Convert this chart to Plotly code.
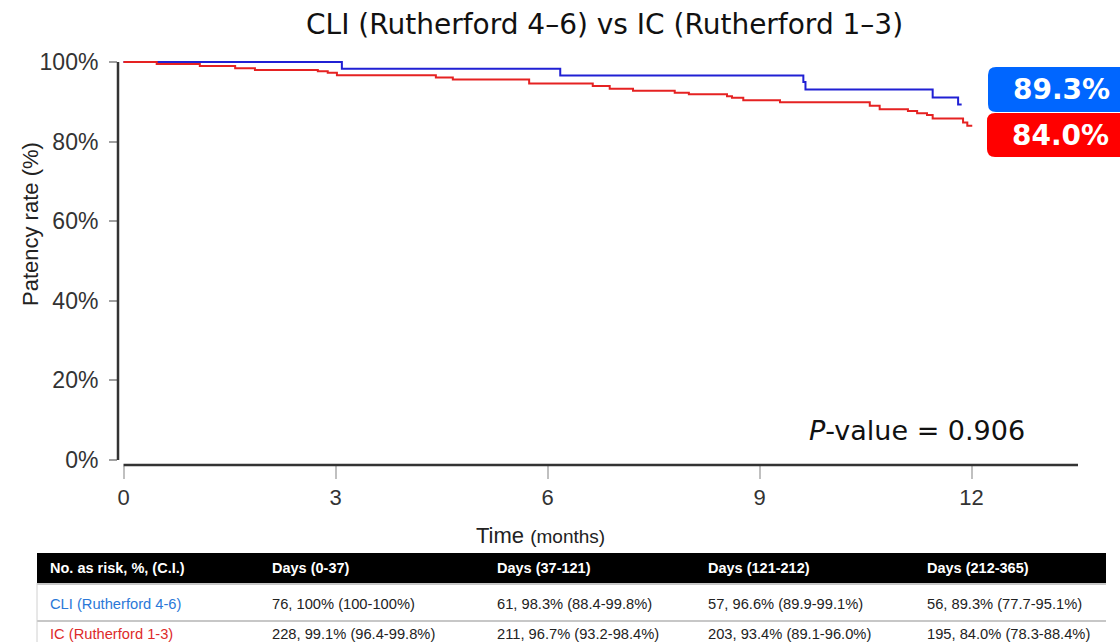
import plotly.graph_objects as go

# Kaplan-Meier patency estimates (months, %)
cli_time = [0, 3.09, 6.18, 9.62, 9.65, 11.45, 11.81, 11.86]
cli_rate = [100, 98.3, 96.6, 95.0, 93.1, 91.1, 89.3, 89.3]

ic_time = [0, 0.47, 1.08, 1.58, 1.86, 2.75, 2.89, 3.02, 4.42, 4.66, 5.74, 6.64,
           6.88, 7.21, 7.80, 8.00, 8.54, 8.61, 8.77, 9.29, 10.56, 10.70, 11.10,
           11.23, 11.37, 11.45, 11.88, 11.94, 12.01]
ic_rate = [100, 99.5, 99.0, 98.4, 98.0, 97.7, 97.3, 96.7, 96.1, 95.6, 94.6, 94.0,
           93.3, 92.8, 92.3, 91.9, 91.4, 91.0, 90.4, 89.9, 89.0, 88.1, 87.7,
           87.1, 86.7, 85.8, 84.8, 84.0, 84.0]

x_ticks = [0, 3, 6, 9, 12]
y_ticks = [0, 20, 40, 60, 80, 100]
y_tick_labels = ["0%", "20%", "40%", "60%", "80%", "100%"]

title_text = "CLI (Rutherford 4\u20136) vs IC (Rutherford 1\u20133)"
p_value = "0.906"

table_header = ["No. as risk, %, (C.I.)", "Days (0-37)", "Days (37-121)",
                "Days (121-212)", "Days (212-365)"]
table_cli = ["CLI (Rutherford 4-6)", "76, 100% (100-100%)", "61, 98.3% (88.4-99.8%)",
             "57, 96.6% (89.9-99.1%)", "56, 89.3% (77.7-95.1%)"]
table_ic = ["IC (Rutherford 1-3)", "228, 99.1% (96.4-99.8%)", "211, 96.7% (93.2-98.4%)",
            "203, 93.4% (89.1-96.0%)", "195, 84.0% (78.3-88.4%)"]

# ---- page geometry (pixels) ----
W, H = 1120, 642
L, R, T, B = 118, 1078, 55, 465
PX_PER_MONTH = 70.67
X0_PX = 123.5
PX_PER_PCT = 3.98
Y0_PX = 460

x_range = [(L - X0_PX) / PX_PER_MONTH, (R - X0_PX) / PX_PER_MONTH]
y_range = [-(B - Y0_PX) / PX_PER_PCT, (Y0_PX - T) / PX_PER_PCT]


def px(x):
    return (x - L) / (R - L)


def py(y):
    return (B - y) / (B - T)


BLUE_LINE = "#2020d4"
RED_LINE = "#e52222"
AXIS = "#333333"
FONT_MAIN = "DejaVu Sans"
FONT_SANS = "Liberation Sans"

fig = go.Figure()
fig.add_trace(go.Scatter(x=cli_time, y=cli_rate, mode="lines", line_shape="hv",
                         line=dict(color=BLUE_LINE, width=2), name="CLI",
                         showlegend=False, hoverinfo="skip"))
fig.add_trace(go.Scatter(x=ic_time, y=ic_rate, mode="lines", line_shape="hv",
                         line=dict(color=RED_LINE, width=2), name="IC",
                         showlegend=False, hoverinfo="skip"))

shapes = []
annotations = []


def label(x, y, text, size, color="#111111", family=FONT_MAIN,
          xanchor="center", yanchor="middle", **kw):
    annotations.append(dict(xref="paper", yref="paper", x=px(x), y=py(y),
                            xanchor=xanchor, yanchor=yanchor, text=text,
                            showarrow=False,
                            font=dict(family=family, size=size, color=color), **kw))


# axis lines, drawn separately so they don't touch (base-graphics look)
shapes.append(dict(type="line", xref="paper", yref="y", x0=0, x1=0, y0=0, y1=100,
                   line=dict(color=AXIS, width=2.5)))
shapes.append(dict(type="line", xref="x", yref="paper", x0=0, x1=x_range[1],
                   y0=0, y1=0, line=dict(color=AXIS, width=2.5)))


def rounded_rect(x0, y0, x1, y1, r, color):
    pts = [
        ("M", [(x0 + r, y0)]),
        ("L", [(x1 - r, y0)]),
        ("Q", [(x1, y0), (x1, y0 + r)]),
        ("L", [(x1, y1 - r)]),
        ("Q", [(x1, y1), (x1 - r, y1)]),
        ("L", [(x0 + r, y1)]),
        ("Q", [(x0, y1), (x0, y1 - r)]),
        ("L", [(x0, y0 + r)]),
        ("Q", [(x0, y0), (x0 + r, y0)]),
    ]
    path = ""
    for cmd, coords in pts:
        path += cmd + " " + " ".join(f"{px(a):.5f},{py(b):.5f}" for a, b in coords) + " "
    path += "Z"
    return dict(type="path", xref="paper", yref="paper", path=path,
                fillcolor=color, line=dict(width=0), layer="above")


# end-of-curve value badges
shapes.append(rounded_rect(988, 67, 1135, 112, 8, "#0066ff"))
shapes.append(rounded_rect(987, 113, 1135, 157, 8, "#ff0000"))
label(1061, 90, f"<b>{cli_rate[-1]:.1f}%</b>", 28, color="white")
label(1060, 135, f"<b>{ic_rate[-1]:.1f}%</b>", 28, color="white")

# title
label(604, 25, title_text, 28)

# p-value
label(807, 430, f"<i>P</i>-value = {p_value}", 27, xanchor="left")

# axis titles
label(30, 224, "Patency rate (%)", 22, color="#222222", family=FONT_SANS,
      textangle=-90)
label(540, 535, "Time <span style='font-size:19px'>(months)</span>", 22,
      color="#222222", family=FONT_SANS)

# number-at-risk table
TBL_L, TBL_R = 37, 1106
HDR_TOP, HDR_BOT = 553, 583
ROW_SEP, TBL_BOT = 621, 650
col_x = [48, 270, 495, 706, 925]
shapes.append(dict(type="rect", xref="paper", yref="paper",
                   x0=px(TBL_L), x1=px(TBL_R), y0=py(HDR_BOT), y1=py(HDR_TOP),
                   fillcolor="black", line=dict(width=0)))
for ysep in (HDR_BOT + 1, ROW_SEP):
    shapes.append(dict(type="line", xref="paper", yref="paper",
                       x0=px(TBL_L), x1=px(TBL_R), y0=py(ysep), y1=py(ysep),
                       line=dict(color="#b5b5b5", width=1.5)))
shapes.append(dict(type="line", xref="paper", yref="paper",
                   x0=px(TBL_L), x1=px(TBL_L), y0=py(HDR_BOT), y1=py(TBL_BOT),
                   line=dict(color="#d0d0d0", width=1)))

row_specs = [
    (table_header, 568, ["white"] * 5, True, 14.5),
    (table_cli, 604, ["#2a78d8"] + ["#222222"] * 4, False, 14.7),
    (table_ic, 634, ["#dd2a2a"] + ["#222222"] * 4, False, 14.7),
]
for cells, yc, colors, bold, fsize in row_specs:
    for cx, txt, col in zip(col_x, cells, colors):
        label(cx, yc, f"<b>{txt}</b>" if bold else txt, fsize, color=col,
              family=FONT_SANS, xanchor="left")

fig.update_layout(
    width=W, height=H,
    margin=dict(l=L, r=W - R, t=T, b=H - B, pad=0),
    paper_bgcolor="white", plot_bgcolor="white",
    shapes=shapes, annotations=annotations,
    xaxis=dict(range=x_range, tickvals=x_ticks, ticktext=[str(t) for t in x_ticks],
               ticks="outside", ticklen=13, tickwidth=1.5, tickcolor="#c0c0c0",
               showgrid=False, zeroline=False, showline=False,
               tickfont=dict(family=FONT_SANS, size=22, color="#333333")),
    yaxis=dict(range=y_range, tickvals=y_ticks, ticktext=y_tick_labels,
               ticks="outside", ticklen=8, tickwidth=1.5, tickcolor="#a0a0a0",
               showgrid=False, zeroline=False, showline=False,
               ticklabelstandoff=6,
               tickfont=dict(family=FONT_SANS, size=23, color="#333333")),
)

fig.write_html("out.html")
